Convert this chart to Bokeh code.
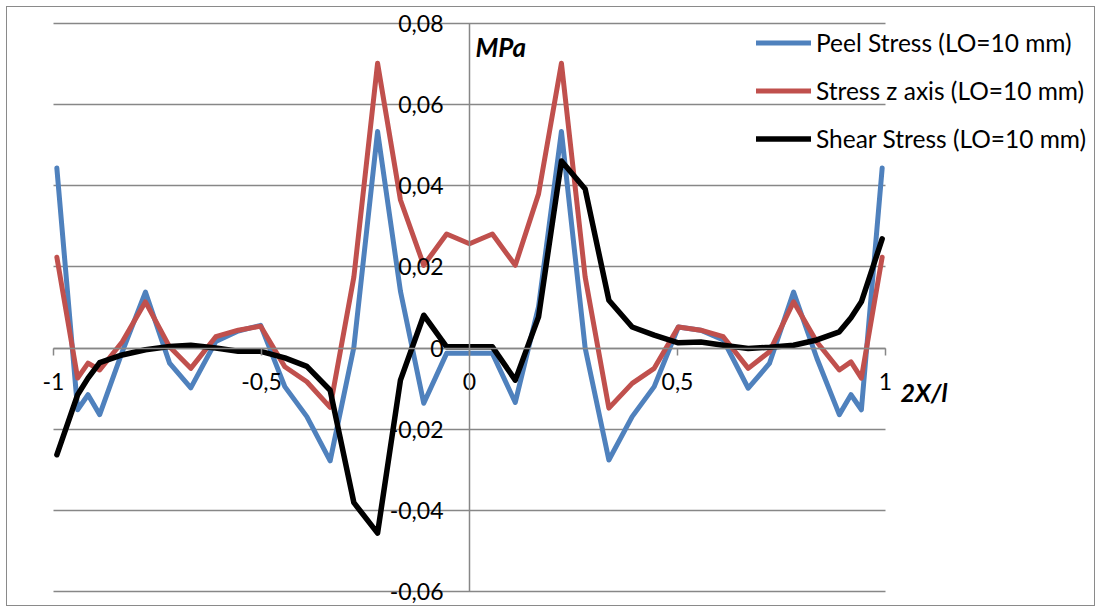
from bokeh.plotting import figure
from bokeh.models import (FixedTicker, CustomJSTickFormatter, Legend, LegendItem,
                          Label, Range1d, LinearAxis, Grid)
from bokeh.embed import file_html
from bokeh.resources import INLINE

# ---- data ----
x_pos = [-0.992, -0.942, -0.917, -0.889, -0.835, -0.779, -0.721, -0.67, -0.61, -0.556,
         -0.502, -0.444, -0.391, -0.335, -0.278, -0.221, -0.166, -0.11, -0.055, 0.0,
         0.055, 0.11, 0.166, 0.221, 0.278, 0.335, 0.391, 0.444, 0.502, 0.556,
         0.61, 0.67, 0.721, 0.779, 0.835, 0.889, 0.917, 0.942, 0.992]

peel = [0.0444, -0.0152, -0.0115, -0.0164, -0.0010, 0.0138, -0.0037, -0.0098, 0.0016, 0.0042,
        0.0056, -0.0095, -0.0169, -0.0278, 0.0002, 0.0534, 0.0140, -0.0136, -0.0013, -0.0013,
        -0.0013, -0.0134, 0.0102, 0.0534, 0.0000, -0.0276, -0.0169, -0.0095, 0.0052, 0.0044,
        0.0020, -0.0099, -0.0038, 0.0138, -0.0025, -0.0164, -0.0115, -0.0152, 0.0444]

stress_z = [0.0224, -0.0074, -0.0037, -0.0054, 0.0015, 0.0114, 0.0003, -0.0050, 0.0028, 0.0044,
            0.0054, -0.0046, -0.0083, -0.0146, 0.0175, 0.0702, 0.0365, 0.0204, 0.0281, 0.0257,
            0.0281, 0.0204, 0.0380, 0.0702, 0.0175, -0.0148, -0.0087, -0.0050, 0.0052, 0.0044,
            0.0028, -0.0050, -0.0009, 0.0114, 0.0015, -0.0054, -0.0034, -0.0074, 0.0224]

shear = [-0.0263, -0.0115, -0.0074, -0.0036, -0.0017, -0.0004, 0.0004, 0.0007, 0.0000, -0.0008,
         -0.0008, -0.0024, -0.0045, -0.0104, -0.0381, -0.0456, -0.0079, 0.0081, 0.0003, 0.0003,
         0.0003, -0.0079, 0.0077, 0.0461, 0.0392, 0.0118, 0.0052, 0.0032, 0.0013, 0.0015,
         0.0007, -0.0001, 0.0002, 0.0007, 0.0020, 0.0040, 0.0075, 0.0114, 0.0269]

series_names = ["Peel Stress (LO=10 mm)", "Stress z axis (LO=10 mm)", "Shear Stress (LO=10 mm)"]
series_colors = ["#4F81BD", "#C0504D", "#000000"]
series_widths = [5, 5, 5.5]

x_ticks = [-1, -0.5, 0, 0.5, 1]
y_ticks = [-0.06, -0.04, -0.02, 0, 0.02, 0.04, 0.06, 0.08]

FONT = "Lato"
GRAY = "#878787"

# frame fills the whole chart area; the visible axes span only [-1, 1] x [-0.06, 0.08]
p = figure(width=1089, height=600, output_backend="svg", toolbar_location=None,
           x_range=Range1d(-1.1106, 1.5072), y_range=Range1d(-0.06394, 0.08394),
           x_axis_type=None, y_axis_type=None,
           min_border_left=0, min_border_right=0, min_border_top=0, min_border_bottom=0)
p.styles = {"border": "1px solid #8a8a8a", "margin-left": "6px", "margin-top": "6px"}
p.outline_line_color = None
p.background_fill_color = "white"
p.border_fill_color = "white"

fmt = CustomJSTickFormatter(code="""
if (Math.abs(tick) < 1e-9) { return "0"; }
var v = Math.round(tick * 100) / 100;
return String(v).replace(".", ",");
""")

grid = Grid(dimension=1, ticker=FixedTicker(ticks=y_ticks), cross_bounds=(-1, 1),
            grid_line_color=GRAY, grid_line_width=1.5)
p.add_layout(grid)

yaxis = LinearAxis(fixed_location=0, ticker=FixedTicker(ticks=y_ticks), formatter=fmt,
                   bounds=(-0.06, 0.08),
                   axis_line_color=GRAY, axis_line_width=1.5,
                   major_tick_line_color=GRAY, major_tick_in=0, major_tick_out=0,
                   minor_tick_line_color=None, major_label_standoff=26,
                   major_label_text_font=FONT, major_label_text_font_size="23px",
                   major_label_text_color="black")
p.add_layout(yaxis, "left")

xaxis = LinearAxis(fixed_location=0, ticker=FixedTicker(ticks=x_ticks), formatter=fmt,
                   bounds=(-1, 1),
                   axis_line_color=GRAY, axis_line_width=1.5,
                   major_tick_line_color=GRAY, major_tick_line_width=1.5,
                   major_tick_in=0, major_tick_out=7,
                   minor_tick_line_color=None, major_label_standoff=18,
                   major_label_text_font=FONT, major_label_text_font_size="23px",
                   major_label_text_color="black")
p.add_layout(xaxis, "below")

renderers = []
for ys, c, w in zip([peel, stress_z, shear], series_colors, series_widths):
    r = p.line(x_pos, ys, line_color=c, line_width=w, line_join="round", line_cap="round")
    renderers.append(r)

legend = Legend(items=[LegendItem(label=n, renderers=[r]) for n, r in zip(series_names, renderers)],
                location=(749, 454), orientation="vertical",
                glyph_width=55, glyph_height=29, label_height=29, spacing=19,
                label_standoff=5, padding=0, margin=0,
                border_line_color=None, background_fill_alpha=0,
                label_text_font=FONT, label_text_font_size="24.5px", label_text_color="black")
p.add_layout(legend)

p.add_layout(Label(x=0, y=0.0741, x_offset=6, text="MPa", text_font=FONT,
                   text_font_size="26px", text_font_style="bold italic",
                   text_baseline="middle", text_color="black"))
p.add_layout(Label(x=1, y=-0.0108, x_offset=15, text="2X/l", text_font=FONT,
                   text_font_size="25px", text_font_style="bold italic",
                   text_baseline="middle", text_color="black"))

open("out.html", "w").write(file_html(p, INLINE))
